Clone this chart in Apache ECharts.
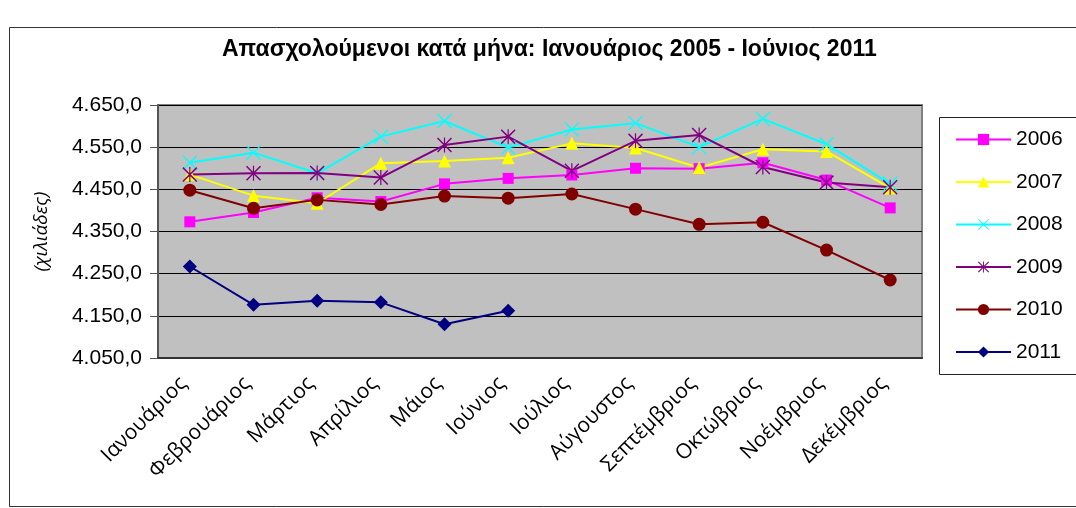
<!DOCTYPE html>
<html>
<head>
<meta charset="utf-8">
<script src="https://cdn.jsdelivr.net/npm/echarts@6/dist/echarts.min.js"></script>
<style>html,body{margin:0;padding:0;background:#fff;}#c{width:1076px;height:508px;}</style>
</head>
<body>
<div id="c"></div>
<script>
var categories = ['Ιανουάριος','Φεβρουάριος','Μάρτιος','Απρίλιος','Μάιος','Ιούνιος','Ιούλιος','Αύγουστος','Σεπτέμβριος','Οκτώβριος','Νοέμβριος','Δεκέμβριος'];
var s2006 = [4373,4395,4430,4421,4463,4476,4484,4500,4499,4513,4472,4406];
var s2007 = [4485,4435,4417,4512,4517,4525,4559,4548,4501,4545,4540,4453];
var s2008 = [4513,4537,4488,4575,4612,4549,4592,4607,4550,4617,4557,4463];
var s2009 = [4485,4488,4489,4478,4555,4575,4494,4565,4579,4503,4466,4455];
var s2010 = [4448,4405,4425,4414,4434,4429,4439,4403,4367,4372,4306,4235];
var s2011 = [4267,4176,4186,4182,4130,4162];
var yTicks = [4050,4150,4250,4350,4450,4550,4650];

var X_PATH = 'path://M0,6L6,0L50,44L94,0L100,6L56,50L100,94L94,100L50,56L6,100L0,94L44,50Z';
var STAR_PATH = 'path://M0,7L7,0L50,43L93,0L100,7L57,50L100,93L93,100L50,57L7,100L0,93L43,50Z M46,0L54,0L54,100L46,100Z';

function fmt(v){
  var s = String(Math.round(v));
  return s.charAt(0) + '.' + s.slice(1) + ',0';
}

function mk(name, data, color, symbol, size){
  return {
    name: name, type: 'line', data: data,
    symbol: symbol, symbolSize: size,
    lineStyle: {color: color, width: 2},
    itemStyle: {color: color},
    emphasis: {disabled: true},
    animation: false
  };
}

var chart = echarts.init(document.getElementById('c'), null, {renderer: 'canvas'});
chart.setOption({
  backgroundColor: '#ffffff',
  animation: false,
  title: {
    text: 'Απασχολούμενοι κατά μήνα: Ιανουάριος 2005 - Ιούνιος 2011',
    left: 217, top: 33,
    textStyle: {fontFamily: 'Liberation Sans', fontWeight: 'bold', fontSize: 23, color: '#000'}
  },
  graphic: [
    {type: 'rect', shape: {x: 9.5, y: 27.5, width: 1080, height: 479}, style: {fill: 'none', stroke: '#333', lineWidth: 1}, silent: true, z: -1},
    {type: 'rect', shape: {x: 939.5, y: 117.5, width: 150, height: 257}, style: {fill: '#fff', stroke: '#222', lineWidth: 1}, silent: true, z: 0}
  ],
  legend: {
    orient: 'vertical',
    left: 950, top: 124,
    itemWidth: 55, itemHeight: 14,
    itemGap: 21.5,
    textStyle: {fontFamily: 'Liberation Sans', fontSize: 21, color: '#000', lineHeight: 21},
    data: ['2006','2007','2008','2009','2010','2011'],
    z: 5
  },
  grid: {left: 158, right: 154, top: 105, bottom: 150, show: true, backgroundColor: '#C0C0C0', borderColor: '#808080', borderWidth: 2},
  xAxis: {
    type: 'category', data: categories, boundaryGap: true,
    axisLine: {show: true, lineStyle: {color: '#333', width: 2}},
    axisTick: {show: false},
    axisLabel: {rotate: 45, margin: 16, padding: [0, 9, 0, 0], fontFamily: 'Open Sans', fontSize: 21, color: '#000', interval: 0}
  },
  yAxis: {
    type: 'value', min: 4050, max: 4650, interval: 100,
    name: '(χιλιάδες)', nameLocation: 'middle', nameGap: 107, nameRotate: 90,
    nameTextStyle: {fontFamily: 'Open Sans', fontStyle: 'italic', fontSize: 19, color: '#000'},
    axisLine: {show: true, lineStyle: {color: '#555', width: 2}},
    axisTick: {show: true, length: 8, inside: false, lineStyle: {color: '#555', width: 1}},
    splitLine: {show: true, lineStyle: {color: '#000', width: 1}},
    axisLabel: {
      margin: 16, fontFamily: 'Liberation Sans', fontSize: 21, color: '#000',
      customValues: yTicks,
      formatter: function(v){ return fmt(v); }
    }
  },
  series: [
    mk('2006', s2006, '#FF00FF', 'rect', 11),
    mk('2007', s2007, '#FFFF00', 'triangle', 13),
    mk('2008', s2008, '#00FFFF', X_PATH, 15),
    mk('2009', s2009, '#800080', STAR_PATH, 15),
    mk('2010', s2010, '#800000', 'circle', 13),
    mk('2011', s2011, '#000080', 'diamond', 14)
  ]
});
</script>
</body>
</html>
